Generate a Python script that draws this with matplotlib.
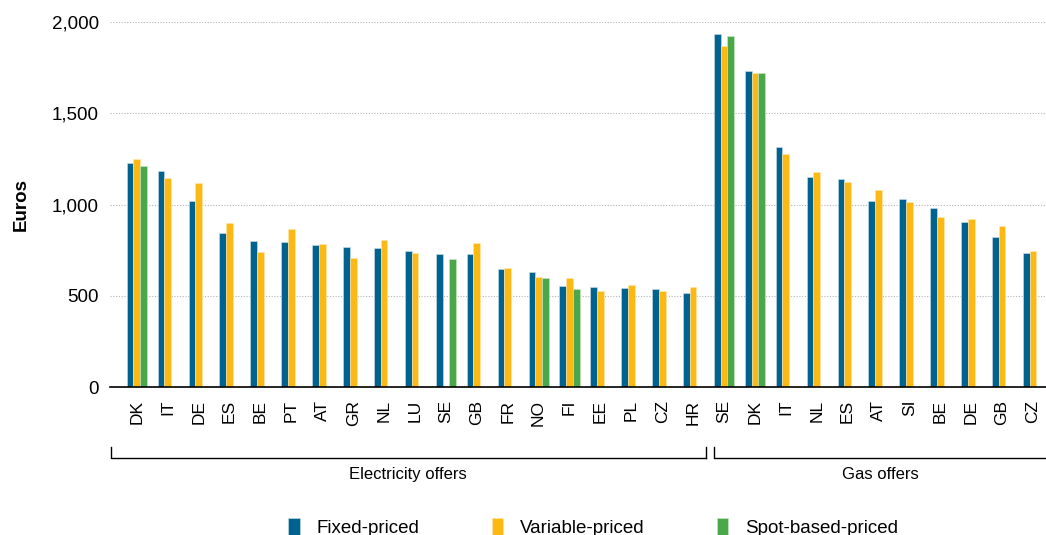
import matplotlib.pyplot as plt
import numpy as np

plt.rcParams['font.family'] = ['Liberation Sans', 'DejaVu Sans']

countries = ['DK', 'IT', 'DE', 'ES', 'BE', 'PT', 'AT', 'GR', 'NL', 'LU', 'SE', 'GB', 'FR', 'NO', 'FI',
             'EE', 'PL', 'CZ', 'HR',
             'SE', 'DK', 'IT', 'NL', 'ES', 'AT', 'SI', 'BE', 'DE', 'GB', 'CZ']
n_elec = 19

fixed = [1226, 1182, 1019, 842, 800, 795, 776, 769, 763, 745, 729, 727, 645, 628, 553,
         548, 541, 537, 517,
         1935, 1731, 1314, 1148, 1141, 1021, 1028, 980, 902, 820, 734]
variable = [1248, 1145, 1118, 897, 740, 864, 785, 707, 804, 734, np.nan, 791, 650, 601, 595,
            524, 557, 526, 546,
            1866, 1723, 1278, 1176, 1121, 1077, 1011, 929, 922, 884, 743]
spot = [1211, np.nan, np.nan, np.nan, np.nan, np.nan, np.nan, np.nan, np.nan, np.nan, 700, np.nan, np.nan, 595, 535,
        np.nan, np.nan, np.nan, np.nan,
        1921, 1718, np.nan, np.nan, np.nan, np.nan, np.nan, np.nan, np.nan, np.nan, np.nan]

c_fixed = '#00628f'
c_var = '#fdb913'
c_spot = '#4aa84a'

fig = plt.figure(figsize=(10.46, 5.35), dpi=100)
ax = fig.add_axes([0.105, 0.2766, 0.895, 0.6823])

x = np.arange(len(countries))
w = 0.217
ax.bar(x - w, fixed, w, color=c_fixed, edgecolor='#cfe0ea', linewidth=0.4, label='Fixed-priced', zorder=3)
ax.bar(x, variable, w, color=c_var, edgecolor='#fde7b0', linewidth=0.4, label='Variable-priced', zorder=3)
ax.bar(x + w, spot, w, color=c_spot, edgecolor='#cde8cd', linewidth=0.4, label='Spot-based-priced', zorder=3)

ax.set_xlim(-0.874, 29.42)
ax.set_ylim(0, 2000)
ax.set_yticks([0, 500, 1000, 1500, 2000])
ax.set_yticklabels(['0', '500', '1,000', '1,500', '2,000'], fontsize=13.5)
ax.set_xticks(x)
ax.set_xticklabels(countries, rotation=90, fontsize=12.5)
ax.tick_params(axis='x', length=0, pad=9)
ax.tick_params(axis='y', length=0, pad=8)
ax.yaxis.grid(True, linestyle=(0, (1, 1.5)), color='#b5b5b5', linewidth=0.8, zorder=0)
for s in ['top', 'right', 'left']:
    ax.spines[s].set_visible(False)
ax.spines['bottom'].set_color('black')
ax.spines['bottom'].set_linewidth(1.2)
ax.spines['bottom'].set_zorder(4)
ax.set_ylabel('Euros', fontsize=13.5, fontweight='bold', labelpad=16)

# group brackets under the ticks
tr = ax.get_xaxis_transform()
groups = [(-0.84, n_elec - 0.59, 'Electricity offers'), (n_elec - 0.33, 29.42, 'Gas offers')]
for x0, x1, label in groups:
    ax.plot([x0, x0, x1], [-0.164, -0.1945, -0.1945], color='black', lw=1, transform=tr, clip_on=False)
    if x1 < 29:
        ax.plot([x1, x1], [-0.1945, -0.164], color='black', lw=1, transform=tr, clip_on=False)
    ax.text((x0 + x1) / 2, -0.24, label, transform=tr, ha='center', va='center', fontsize=12)

fig.legend(loc='lower center', bbox_to_anchor=(0.567, -0.035), ncol=3, frameon=False, fontsize=13.5,
           handlelength=0.6, handleheight=1.05, columnspacing=3.85, handletextpad=0.9)

fig.savefig('out.png', dpi=100)
